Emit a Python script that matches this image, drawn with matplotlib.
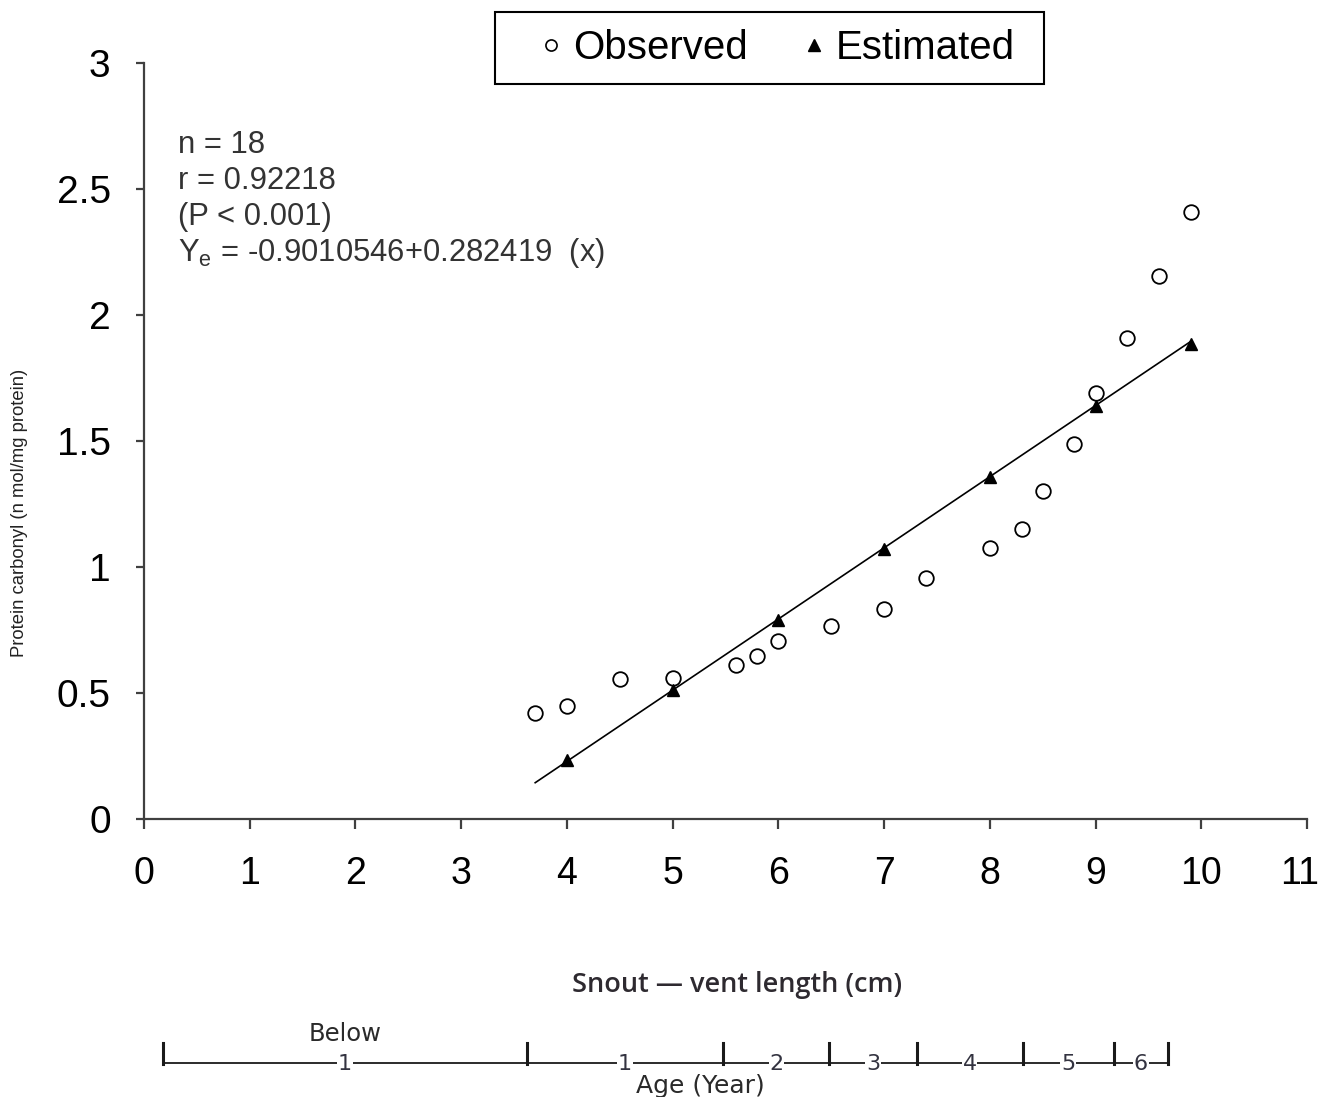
import numpy as np
import matplotlib
matplotlib.use('Agg')
import matplotlib.pyplot as plt
from matplotlib.lines import Line2D
from matplotlib.patches import Rectangle
from matplotlib.transforms import ScaledTranslation

#Observed data (snout-vent length cm, protein carbonyl)
obs_x = [3.7, 4.0, 4.5, 5.0, 5.6, 5.8, 6.0, 6.5, 7.0, 7.4, 8.0, 8.3, 8.5, 8.8, 9.0, 9.3, 9.6, 9.9]
obs_y = [0.42, 0.45, 0.555, 0.56, 0.61, 0.645, 0.705, 0.765, 0.835, 0.955, 1.075, 1.15, 1.30, 1.49, 1.69, 1.91, 2.155, 2.41]

#Estimated values
est_x = [4, 5, 6, 7, 8, 9, 9.9]
est_y = [0.234, 0.51, 0.79, 1.07, 1.357, 1.64, 1.885]

#Regression line end points
line_x = [3.7, 9.9]
line_y = [0.144, 1.895]

#Age classes along snout-vent length
age_bounds = [0.18, 3.62, 5.48, 6.48, 7.31, 8.31, 9.17, 9.69]
age_labels = ['1', '1', '2', '3', '4', '5', '6']

xticks = list(range(0, 12))
yticks = [0, 0.5, 1, 1.5, 2, 2.5, 3]
ytick_labels = ['0', '0.5', '1', '1.5', '2', '2.5', '3']

plt.rcParams['font.family'] = ['Liberation Sans', 'DejaVu Sans']

W, H = 1324, 1097
fig = plt.figure(figsize=(W / 100, H / 100), dpi=100)
ax = fig.add_axes([144 / W, 1 - 819 / H, (1307 - 144) / W, (819 - 63) / H])

axc = '#404040'
ax.plot(line_x, line_y, color='black', lw=1.2, zorder=2)
ax.plot(obs_x, obs_y, 'o', mfc='white', mec='black', ms=10.5, mew=1.3, zorder=3, clip_on=False)
ax.plot(est_x, est_y, '^', color='black', ms=9, zorder=4, clip_on=False)

ax.set_xlim(0, 11)
ax.set_ylim(0, 3)
ax.set_xticks(xticks)
ax.set_yticks(yticks)
ax.set_yticklabels(ytick_labels)
for s in ['top', 'right']:
    ax.spines[s].set_visible(False)
for s in ['left', 'bottom']:
    ax.spines[s].set_color(axc)
    ax.spines[s].set_linewidth(1.6)
ax.tick_params(axis='x', direction='out', length=7, width=1.6, color=axc, labelsize=27, pad=20)
ax.tick_params(axis='y', direction='out', length=6, width=1.6, color=axc, labelsize=28, pad=18)

#last label sits right at the edge, nudge it in a little
last = ax.get_xticklabels()[-1]
last.set_transform(last.get_transform() + ScaledTranslation(-7 / 100, 0, fig.dpi_scale_trans))

ax.set_ylabel('Protein carbonyl (n mol/mg protein)', fontsize=13.3, color='#222222')
ax.yaxis.set_label_coords(-0.1, 0.405)

#Stats text
stats = ['n = 18', 'r = 0.92218', '(P < 0.001)', r'Y$_\mathregular{e}$ = -0.9010546+0.282419  (x)']
for i, s in enumerate(stats):
    fig.text(178 / W, 1 - (145 + 36 * i) / H, s, fontsize=22.3, color='#333333', va='center')

#Legend
handles = [Line2D([], [], ls='none', marker='o', mfc='white', mec='black', ms=8, mew=1.2),
           Line2D([], [], ls='none', marker='^', color='black', ms=8)]
leg = fig.legend(handles, ['Observed', 'Estimated'], loc='center', ncol=2,
                 bbox_to_anchor=(777 / W, 1 - 48 / H),
                 fontsize=29, frameon=False, handlelength=0.6,
                 handletextpad=0.25, columnspacing=1.35)
fig.patches.append(Rectangle((495 / W, 1 - 84 / H), (1044 - 495) / W, 72 / H,
                             transform=fig.transFigure, fill=False, edgecolor='black', lw=1.5))

#Snout-vent label
fig.text(737 / W, 1 - 985 / H, 'Snout \u2014 vent length (cm)', fontsize=19.5, family='Open Sans',
         color='#2e2a30', ha='center', va='center', fontweight='semibold')

#Age bar beneath
ax2 = fig.add_axes([144 / W, 0, (1307 - 144) / W, 1], facecolor='none')
ax2.set_xlim(0, 11)
ax2.set_ylim(H, 0)
ax2.axis('off')
barc = '#1a1a1a'
ax2.plot([age_bounds[0], age_bounds[-1]], [1063, 1063], color=barc, lw=1.3)
for b in age_bounds:
    ax2.plot([b, b], [1043, 1064], color=barc, lw=2.2)
for i, lab in enumerate(age_labels):
    mid = (age_bounds[i] + age_bounds[i + 1]) / 2
    ax2.text(mid, 1064, lab, fontsize=16, family='DejaVu Sans', color='#333340', ha='center', va='center',
             bbox=dict(facecolor='white', edgecolor='none', pad=0.5))
ax2.text((age_bounds[0] + age_bounds[1]) / 2, 1034, 'Below', fontsize=17.5, family='DejaVu Sans',
         color='#2a2a2a', ha='center', va='center')
fig.text(700 / W, 1 - 1086 / H, 'Age (Year)', fontsize=18, family='DejaVu Sans', color='#2a2a2a',
         ha='center', va='center')

fig.savefig('out.png', dpi=100)
